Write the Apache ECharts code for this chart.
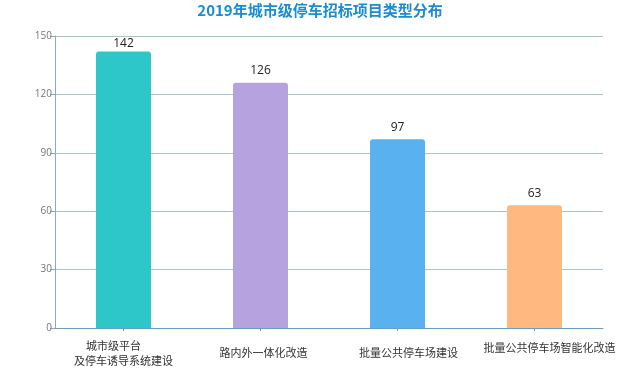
<!DOCTYPE html>
<html>
<head>
<meta charset="utf-8">
<script src="https://cdn.jsdelivr.net/npm/echarts@6/dist/echarts.min.js"></script>
<style>html,body{margin:0;padding:0;background:#fff}#c{width:640px;height:379px}</style>
</head>
<body>
<div id="c"></div>
<script>
var categories = ['城市级平台\n及停车诱导系统建设', '路内外一体化改造', '批量公共停车场建设', '批量公共停车场智能化改造'];
var values = [142, 126, 97, 63];
var colors = ['#2ec7c9', '#b6a2de', '#5ab1ef', '#ffb980'];
var yTicks = [0, 30, 60, 90, 120, 150];

var labelPads = [[0, 0, 0, 0], [0, 0, 0, 6], [0, 0, 0, 22], [0, 0, 10, 30]];

var chart = echarts.init(document.getElementById('c'));
chart.setOption({
  backgroundColor: '#fff',
  title: {
    text: '2019年城市级停车招标项目类型分布',
    left: 'center',
    top: -2,
    textStyle: { color: '#1a8ccf', fontSize: 15, fontWeight: 'bold', fontFamily: 'Noto Sans CJK SC' }
  },
  grid: { left: 55, right: 37, top: 36, bottom: 51, containLabel: false, outerBoundsMode: 'none' },
  xAxis: {
    type: 'category',
    data: categories.map(function (c, i) {
      return { value: c, textStyle: { padding: labelPads[i], verticalAlign: 'middle', lineHeight: 15, fontSize: 11 } };
    }),
    axisLine: { lineStyle: { color: '#6a9ec0', width: 1 } },
    axisTick: { show: true, alignWithLabel: true, length: 3, lineStyle: { color: '#6a9ec0' } },
    axisLabel: {
      interval: 0,
      margin: 25,
      verticalAlign: 'middle',
      color: '#333',
      fontSize: 11,
      lineHeight: 15,
      fontFamily: 'Noto Sans CJK SC',
      formatter: function (v) {
        if (v.indexOf('\n') >= 0) {
          var p = v.split('\n');
          return '{a|' + p[0] + '}{pad|}\n{b|' + p[1] + '}';
        }
        return v;
      },
      rich: {
        a: { fontSize: 11, lineHeight: 15, color: '#333', fontFamily: 'Noto Sans CJK SC' },
        b: { fontSize: 11, lineHeight: 15, color: '#333', fontFamily: 'Noto Sans CJK SC' },
        pad: { width: 20, lineHeight: 15 }
      }
    }
  },
  yAxis: {
    type: 'value',
    min: yTicks[0],
    max: yTicks[yTicks.length - 1],
    interval: 30,
    axisLine: { show: true, lineStyle: { color: '#8fa9b5', width: 1 } },
    axisTick: { show: true, length: 5, lineStyle: { color: '#8fa9b5' } },
    axisLabel: { color: '#777', fontSize: 10, margin: 3, fontFamily: 'Open Sans' },
    splitLine: { show: true, lineStyle: { color: '#a9c3cc', width: 1 } }
  },
  series: [{
    type: 'bar',
    data: values.map(function (v, i) {
      var d = { value: v, itemStyle: { color: colors[i] } };
      if (i === 0) d.label = { distance: 2 };
      return d;
    }),
    barWidth: 55,
    itemStyle: { borderRadius: [3, 3, 0, 0] },
    label: {
      show: true,
      position: 'top',
      distance: 6,
      color: '#222',
      fontSize: 12,
      fontFamily: 'Open Sans'
    }
  }],
  animation: false
});
</script>
</body>
</html>
